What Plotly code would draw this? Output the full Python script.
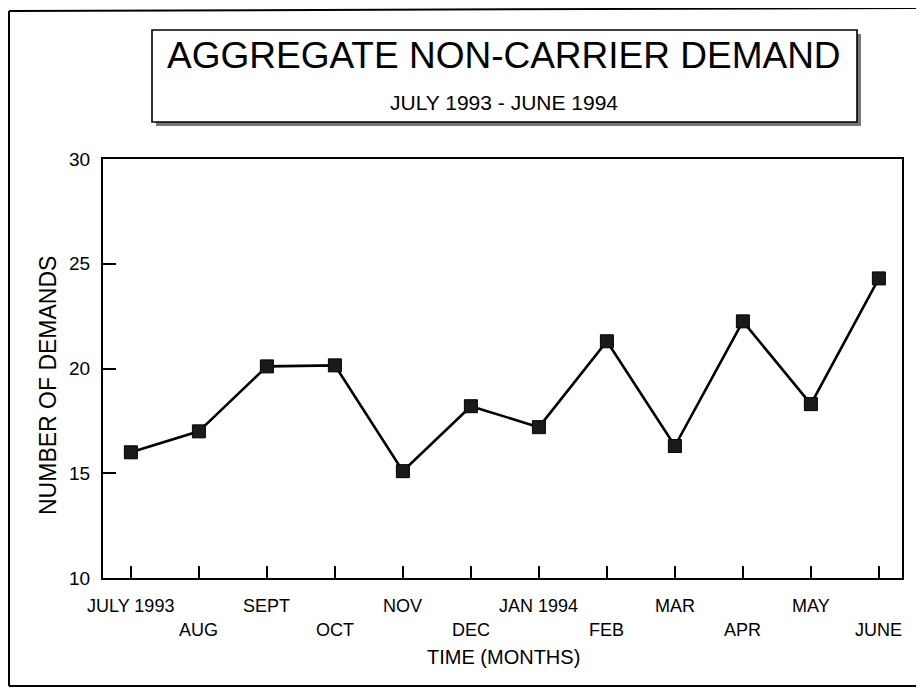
import plotly.graph_objects as go

months = ["JULY 1993", "AUG", "SEPT", "OCT", "NOV", "DEC",
          "JAN 1994", "FEB", "MAR", "APR", "MAY", "JUNE"]
demands = [16.0, 17.0, 20.1, 20.15, 15.1, 18.2, 17.2, 21.3, 16.3, 22.25, 18.3, 24.3]
y_ticks = [10, 15, 20, 25, 30]

title_text = "AGGREGATE NON-CARRIER DEMAND"
subtitle_text = "JULY 1993 - JUNE 1994"
x_title = "TIME (MONTHS)"
y_title = "NUMBER OF DEMANDS"

FONT = "Arial, Liberation Sans, sans-serif"
OFF = 8                      # browser body margin
W, H = 924 - OFF, 689 - OFF  # figure size
PL, PR, PT, PB = 103, 902, 159, 578  # plot area in page pixels


def px(x):
    return (x - PL) / (PR - PL)


def py(y):
    return (PB - y) / (PB - PT)


fig = go.Figure()
fig.add_trace(go.Scatter(
    x=months, y=demands, mode="lines+markers",
    line=dict(color="black", width=2.6),
    marker=dict(symbol="square", size=13, color="#1a1a1a",
                line=dict(color="black", width=1)),
    showlegend=False, hoverinfo="skip",
))

frame = dict(color="black", width=2)
shapes = [
    # outer frame: left, top, bottom (no right edge)
    dict(type="line", xref="paper", yref="paper",
         x0=px(9), x1=px(9), y0=py(686), y1=py(11), line=frame),
    dict(type="line", xref="paper", yref="paper",
         x0=px(9), x1=px(924), y0=py(11), y1=py(8), line=frame),
    dict(type="line", xref="paper", yref="paper",
         x0=px(9), x1=px(924), y0=py(686), y1=py(686), line=frame),
    # title box shadow
    dict(type="rect", xref="paper", yref="paper",
         x0=px(156), x1=px(861), y0=py(126), y1=py(34),
         line=dict(color="#555", width=0), fillcolor="#777"),
    # title box
    dict(type="rect", xref="paper", yref="paper",
         x0=px(152), x1=px(857), y0=py(122), y1=py(30),
         line=dict(color="black", width=1.6), fillcolor="white"),
]

annotations = [
    dict(text=title_text, xref="paper", yref="paper", x=px(504), y=py(56),
         showarrow=False, font=dict(family=FONT, size=37, color="black"),
         xanchor="center", yanchor="middle"),
    dict(text=subtitle_text, xref="paper", yref="paper", x=px(504), y=py(103),
         showarrow=False, font=dict(family=FONT, size=21, color="black"),
         xanchor="center", yanchor="middle"),
    dict(text=x_title, xref="paper", yref="paper", x=px(504), y=py(657),
         showarrow=False, font=dict(family=FONT, size=20, color="black"),
         xanchor="center", yanchor="middle"),
    dict(text=y_title, xref="paper", yref="paper", x=px(48), y=py(386),
         showarrow=False, textangle=-90,
         font=dict(family=FONT, size=23, color="black"),
         xanchor="center", yanchor="middle"),
]

for i, m in enumerate(months):
    row_y = 606 if i % 2 == 0 else 630
    annotations.append(dict(
        text=m, xref="x", yref="paper", x=m, y=py(row_y),
        showarrow=False, font=dict(family=FONT, size=18, color="black"),
        xanchor="center", yanchor="middle"))

fig.update_layout(
    width=W, height=H,
    margin=dict(l=PL - OFF, r=924 - PR, t=PT - OFF, b=689 - PB, pad=0),
    paper_bgcolor="white", plot_bgcolor="white",
    shapes=shapes, annotations=annotations,
    font=dict(family=FONT, color="black"),
    xaxis=dict(type="category", range=[-0.41, 11.34],
               showline=True, linecolor="black", linewidth=2, mirror=True,
               ticks="inside", ticklen=12, tickwidth=1.5, tickcolor="black",
               showticklabels=False, showgrid=False, zeroline=False),
    yaxis=dict(range=[10, 30], tickvals=y_ticks,
               showline=True, linecolor="black", linewidth=2, mirror=True,
               ticks="inside", ticklen=13, tickwidth=2, tickcolor="black",
               ticklabelstandoff=7,
               tickfont=dict(family=FONT, size=19, color="black"),
               showgrid=False, zeroline=False),
)

fig.write_html("out.html")
